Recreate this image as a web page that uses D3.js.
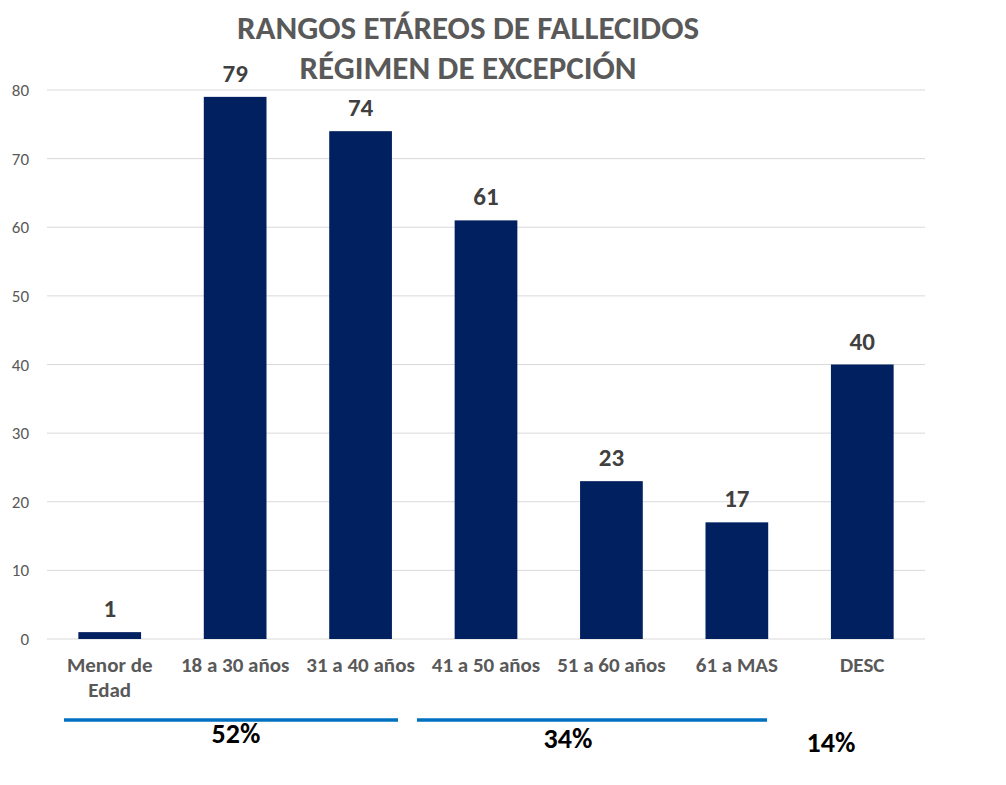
<!DOCTYPE html>
<html><head><meta charset="utf-8">
<script src="https://cdn.jsdelivr.net/npm/d3@7"></script>
<style>
body{margin:0;background:#fff;}
text{font-family:Carlito,Lato,"Open Sans",sans-serif;}
</style></head>
<body><svg id="c" width="1006" height="785"></svg>
<script>
const categories=[["Menor de","Edad"],["18 a 30 años"],["31 a 40 años"],["41 a 50 años"],["51 a 60 años"],["61 a MAS"],["DESC"]];
const values=[1,79,74,61,23,17,40];
const yTicks=[0,10,20,30,40,50,60,70,80];
const titleLines=["RANGOS ETÁREOS DE FALLECIDOS","RÉGIMEN DE EXCEPCIÓN"];
const groupLabels=["52%","34%","14%"];

const svg=d3.select("#c");
const L=47,R=925,T=90,B=639;
const x=d3.scaleBand().domain(d3.range(categories.length)).range([L,R]).paddingInner(0.5).paddingOuter(0.25);
const y=d3.scaleLinear().domain([0,80]).range([B,T]);

svg.append("g").selectAll("line").data(yTicks).join("line")
 .attr("x1",L).attr("x2",R).attr("y1",d=>y(d)).attr("y2",d=>y(d))
 .attr("stroke","#d9d9d9").attr("stroke-width",1);
svg.append("g").selectAll("text").data(yTicks).join("text")
 .attr("x",29).attr("y",d=>y(d)+6).attr("text-anchor","end")
 .attr("fill","#595959").attr("font-size",17).text(d=>d);

svg.append("g").selectAll("rect").data(values).join("rect")
 .attr("x",(d,i)=>x(i)).attr("width",x.bandwidth())
 .attr("y",d=>y(d)).attr("height",d=>B-y(d)).attr("fill","#002060");

svg.append("g").selectAll("text").data(values).join("text")
 .attr("x",(d,i)=>x(i)+x.bandwidth()/2).attr("y",d=>y(d)-15)
 .attr("text-anchor","middle").attr("fill","#404040").attr("font-size",25).attr("font-weight","bold").text(d=>d);

const cl=svg.append("g").selectAll("text").data(categories).join("text")
 .attr("x",(d,i)=>x(i)+x.bandwidth()/2).attr("y",672)
 .attr("text-anchor","middle").attr("fill","#595959").attr("font-size",21).attr("font-weight","bold");
cl.selectAll("tspan").data(d=>d).join("tspan")
 .attr("x",function(){return this.parentNode.getAttribute("x");})
 .attr("dy",(d,j)=>j?25:0).text(d=>d);

svg.append("g").selectAll("text").data(titleLines).join("text")
 .attr("x",468).attr("y",(d,i)=>39+i*40).attr("text-anchor","middle")
 .attr("fill","#595959").attr("font-size",33).attr("font-weight","bold").text(d=>d);

const lineSpans=[[64,398],[417,767]];
svg.append("g").selectAll("line").data(lineSpans).join("line")
 .attr("x1",d=>d[0]).attr("x2",d=>d[1]).attr("y1",720).attr("y2",720)
 .attr("stroke","#0070c0").attr("stroke-width",3.5);
const gpos=[[236,743],[568,748],[831,752]];
svg.append("g").selectAll("text").data(groupLabels).join("text")
 .attr("x",(d,i)=>gpos[i][0]).attr("y",(d,i)=>gpos[i][1]).attr("text-anchor","middle")
 .attr("fill","#000").attr("font-size",28).attr("font-weight",600).text(d=>d);
</script></body></html>
